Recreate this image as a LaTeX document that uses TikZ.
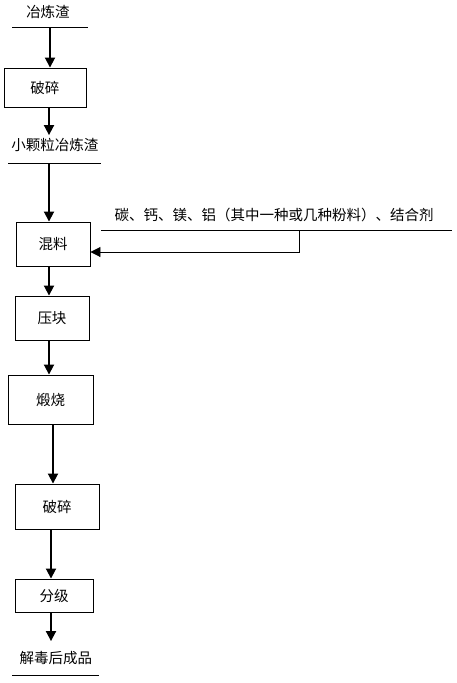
\documentclass[tikz,border=0pt]{standalone}
\usepackage{fontspec}
\setmainfont{Noto Sans CJK SC}
\usetikzlibrary{arrows.meta}
\begin{document}
\begin{tikzpicture}[x=1pt,y=-1pt,
  box/.style={draw,line width=0.9pt,inner sep=0pt,font=\fontsize{14.5}{16}\selectfont},
  lbl/.style={inner sep=0pt,font=\fontsize{14.5}{16}\selectfont},
  rule/.style={line width=0.9pt},
  arr/.style={line width=1.8pt,-{Triangle[length=10pt,width=10pt]}},
  feed/.style={line width=0.9pt,-{Triangle[length=10pt,width=10pt]}}]
\useasboundingbox (0,0) rectangle (456,683);
% column x positions of the connectors
\coordinate (x1) at (50,0);
\coordinate (x2) at (49,0);
\coordinate (x5) at (53,0);
\coordinate (x6) at (51,0);
% top input
\node[lbl] (t1) at (48,12) {冶炼渣};
\coordinate (l1a) at (12,27); \coordinate (l1b) at (88,27);
\draw[rule] (l1a) -- (l1b);
\coordinate (s1) at (50,27);
\node[box,minimum width=82pt,minimum height=39pt] (b1) at (45,87.5) {破碎};
\draw[arr] (s1) -- (s1 |- b1.north);
% small particles
\node[lbl] (t2) at (55,145) {小颗粒冶炼渣};
\draw[arr] (b1.south -| x2) -- ([yshift=3pt]t2.north -| x2);
\coordinate (l2a) at (8,163); \coordinate (l2b) at (101,163);
\draw[rule] (l2a) -- (l2b);
\coordinate (s2) at (49,163);
\node[box,minimum width=74pt,minimum height=44pt] (b2) at (53,244) {混料};
\draw[arr] (s2) -- (s2 |- b2.north);
% additives
\node[lbl] (t3) at (274,215) {碳、钙、镁、铝（其中一种或几种粉料）、结合剂};
\coordinate (l3a) at (101,230); \coordinate (l3b) at (452,230);
\draw[rule] (l3a) -- (l3b);
\coordinate (s3) at (299,230);
\coordinate (c3) at (299,252);
\draw[feed] (s3) -- (c3) -- (c3 -| b2.east);
% chain
\node[box,minimum width=74pt,minimum height=44pt] (b3) at (52,318) {压块};
\draw[arr] (b2.south -| x2) -- (b3.north -| x2);
\node[box,minimum width=85pt,minimum height=49pt] (b4) at (50.5,399.5) {煅烧};
\draw[arr] (b3.south -| x2) -- (b4.north -| x2);
\node[box,minimum width=84pt,minimum height=45pt] (b5) at (57,506.5) {破碎};
\draw[arr] (b4.south -| x5) -- (b5.north -| x5);
\node[box,minimum width=78pt,minimum height=33pt] (b6) at (54,595.5) {分级};
\draw[arr] (b5.south -| x6) -- (b6.north -| x6);
% output
\node[lbl] (t4) at (56,658) {解毒后成品};
\draw[arr] (b6.south -| x6) -- ([yshift=10pt]t4.north -| x6);
\coordinate (l4a) at (12,675); \coordinate (l4b) at (99,675);
\draw[rule] (l4a) -- (l4b);
\end{tikzpicture}
\end{document}
